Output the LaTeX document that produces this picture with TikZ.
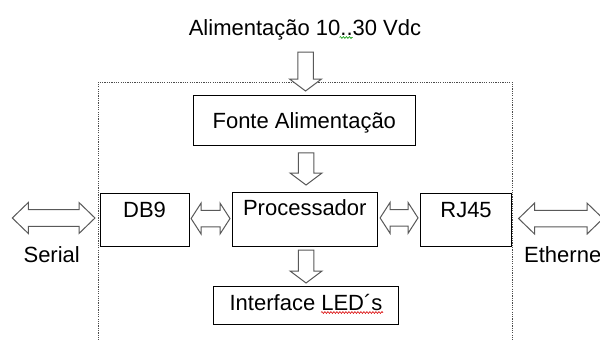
\documentclass[tikz,border=0pt]{standalone}
\usepackage{fontspec}
\setmainfont{Liberation Sans}
\usetikzlibrary{calc,decorations.pathmorphing}
\begin{document}
\begin{tikzpicture}[x=1pt,y=-1pt,
  txt/.style={font=\fontsize{22}{26}\selectfont, text=black, inner sep=0pt},
  box/.style={txt, draw=black, line width=1.1pt, anchor=north west, fill=white},
  blk/.style={draw=black!65, line width=1pt, fill=white, line join=miter},
  frame/.style={draw=black!70, line width=0.9pt, dash pattern=on 1.2pt off 1.1pt},
  squig/.style={decorate, decoration={snake, amplitude=0.9pt, segment length=3pt}, line width=0.6pt},
  vblk/.style={to path={let \p1=(\tikztostart), \p2=(\tikztotarget) in
    (\x1-7.75pt,\y1) -- (\x1+7.75pt,\y1) -- (\x1+7.75pt,\y2+12pt) -- (\x1+16pt,\y2+12pt)
    -- (\x1,\y2) -- (\x1-16pt,\y2+12pt) -- (\x1-7.75pt,\y2+12pt) -- cycle}},
  hblk/.style={to path={let \p1=(\tikztostart), \p2=(\tikztotarget) in
    (\x1,\y1) -- (\x1+#1,\y1+15.5pt) -- (\x1+#1,\y1+8.3pt) -- (\x2-#1,\y1+8.3pt)
    -- (\x2-#1,\y1+15.5pt) -- (\x2,\y1) -- (\x2-#1,\y1-15.5pt) -- (\x2-#1,\y1-8.3pt)
    -- (\x1+#1,\y1-8.3pt) -- (\x1+#1,\y1-15.5pt) -- cycle}}
]
\clip (0,0) rectangle (600,340);
\fill[white] (0,0) rectangle (600,340);

% dotted enclosure
\draw[frame] (98.3,345) -- (98.3,82) -- (512,82) -- (512,345);

% texts
\node[txt, anchor=base] (title) at (305,35) {Alimentação 10..30 Vdc};
\node[txt, anchor=base] (serial) at (51.7,262.5) {Serial};
\node[txt, anchor=base west] (eth) at (524,262.5) {Ethernet};

% boxes
\node[box, minimum width=222.5pt, text height=33pt, text depth=17pt] (fonte) at (192.5,95) {Fonte Alimentação};
\node[box, minimum width=89pt, text height=23.7pt, text depth=29.3pt] (db9) at (99.5,193) {DB9};
\node[box, minimum width=145.5pt, text height=23.3pt, text depth=31pt] (proc) at (231.5,191.7) {Processador};
\node[box, minimum width=91pt, text height=23.7pt, text depth=29.3pt] (rj) at (420,193) {RJ45};
\node[box, minimum width=185pt, text height=24pt, text depth=14pt] (led) at (213,286) {Interface LED´s};

% free ends
\coordinate (serend) at (12.3,218);
\coordinate (ethend) at (603,218);

% vertical block arrows
\draw[blk] ($(title.base)+(0.5,17)$) to[vblk] ($(fonte.north)+(1.75,-4)$);
\draw[blk] ($(fonte.south)+(1.75,6.7)$) to[vblk] ($(proc.north)+(1.25,-6.7)$);
\draw[blk] ($(proc.south)+(1.25,3)$) to[vblk] ($(led.north)+(0,-3)$);

% horizontal double block arrows
\draw[blk] (serend) to[hblk=16pt] ($(db9.west)+(-4.5,-1.5)$);
\draw[blk] ($(db9.east)+(1.5,-1.5)$) to[hblk=10pt] ($(proc.west)+(-1.5,0)$);
\draw[blk] ($(proc.east)+(2,-1.5)$) to[hblk=10pt] ($(rj.west)+(-2,0)$);
\draw[blk] ($(rj.east)+(6.5,-1.5)$) to[hblk=16pt] (ethend);

% spell-check marks
\draw[squig, green!60!black] (339.5,37.5) -- (352.5,37.5);
\draw[squig, red!85!black] (321,312.5) -- (383,312.5);
\end{tikzpicture}
\end{document}
